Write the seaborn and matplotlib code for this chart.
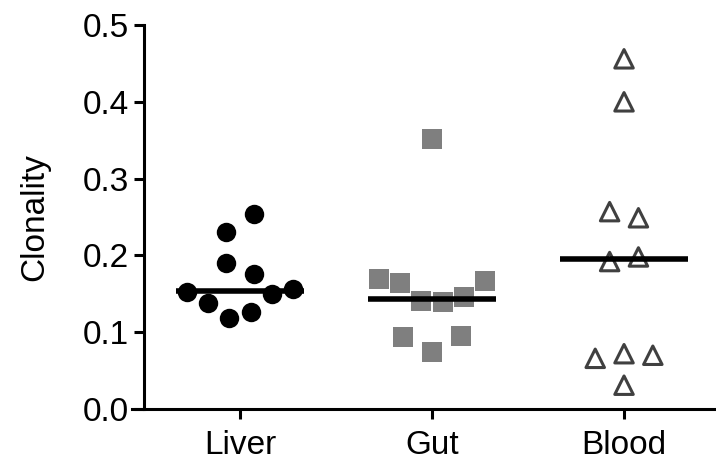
import numpy as np
import pandas as pd
import matplotlib
matplotlib.use("Agg")
import matplotlib.pyplot as plt
import seaborn as sns

categories = ["Liver", "Gut", "Blood"]
liver = [0.254, 0.230, 0.190, 0.176, 0.156, 0.152, 0.150, 0.138, 0.126, 0.118]
gut = [0.352, 0.169, 0.167, 0.164, 0.146, 0.141, 0.139, 0.095, 0.094, 0.074]
blood = [0.456, 0.400, 0.257, 0.249, 0.198, 0.192, 0.072, 0.070, 0.066, 0.031]
y_ticks = [0.0, 0.1, 0.2, 0.3, 0.4, 0.5]
y_label = "Clonality"

sns.set_style("ticks")
plt.rcParams["font.family"] = ["Liberation Sans", "DejaVu Sans"]
plt.rcParams["text.color"] = "black"
plt.rcParams["xtick.color"] = "black"
plt.rcParams["ytick.color"] = "black"
plt.rcParams["axes.labelcolor"] = "black"

W, H = 716, 462
fig = plt.figure(figsize=(W / 100, H / 100), dpi=100)
ax = fig.add_axes([132 / W, (H - 409) / H, (W - 132) / W, (409 - 25) / H])

values = {"Liver": liver, "Gut": gut, "Blood": blood}
GROUP_WIDTH = 2 / 3      # width of a group (also the median bar length)


def dot_offsets(vals, row_height=0.04, width=GROUP_WIDTH, max_step=0.15):
    """Prism-like scatter layout: bin values into rows, spread each row
    symmetrically around the category centre."""
    vals = np.asarray(vals, dtype=float)
    order = np.argsort(vals)
    rows, cur, start = [], [], None
    for idx in order:
        if cur and vals[idx] - start < row_height:
            cur.append(idx)
        else:
            if cur:
                rows.append(cur)
            cur, start = [idx], vals[idx]
    rows.append(cur)
    off = np.zeros(len(vals))
    for r, row in enumerate(rows):
        n = len(row)
        step = min(max_step, width / n)
        slots = (np.arange(n) - (n - 1) / 2) * step
        right_first = (r % 2 == 0)
        slots = sorted(slots, key=lambda s: (-abs(round(s, 9)), -s if right_first else s))
        members = sorted(row, key=lambda i: -vals[i])
        for i, s in zip(members, slots):
            off[i] = s
    return off


styles = {
    "Liver": dict(marker="o", ms=14.0, color="black", filled=True),
    "Gut": dict(marker="s", ms=13.9, color="#7f7f7f", filled=True),
    "Blood": dict(marker="^", ms=13.3, color="#404040", filled=False),
}

for i, cat in enumerate(categories):
    st = styles[cat]
    vals = np.asarray(values[cat])
    xpos = i + dot_offsets(vals)
    if st["filled"]:
        sns.scatterplot(x=xpos, y=vals, ax=ax, marker=st["marker"], s=st["ms"] ** 2,
                        color=st["color"], linewidth=0, legend=False, clip_on=False, zorder=2)
    else:
        sns.scatterplot(x=xpos, y=vals, ax=ax, marker=st["marker"], s=st["ms"] ** 2,
                        facecolor="none", edgecolor=st["color"], linewidth=2.2,
                        legend=False, clip_on=False, zorder=2)
        coll = ax.collections[-1]
        coll.set_facecolor("none")
        coll.set_edgecolor(st["color"])
        coll.set_linewidth(2.2)

for i, cat in enumerate(categories):
    med = np.median(values[cat])
    ax.hlines(med, i - GROUP_WIDTH / 2, i + GROUP_WIDTH / 2, color="black", lw=4, zorder=5)

ax.set_xlim(-0.5625, 2.479)
ax.set_ylim(0, 0.5)
ax.set_yticks(y_ticks)
ax.set_yticklabels([f"{t:.1f}" for t in y_ticks])
ax.set_xticks(range(len(categories)))
ax.set_xticklabels(categories)
ax.set_xlabel("")
ax.set_ylabel(y_label, fontsize=24, labelpad=23)

for s in ["top", "right"]:
    ax.spines[s].set_visible(False)
ax.spines["left"].set_position(("data", -0.5))
for s in ["left", "bottom"]:
    ax.spines[s].set_linewidth(2.2)
    ax.spines[s].set_color("black")

ax.tick_params(axis="both", width=2.2, length=7, labelsize=24, color="black", direction="out")
ax.tick_params(axis="x", pad=8)
ax.tick_params(axis="y", pad=4)

fig.savefig("out.png", dpi=100)
